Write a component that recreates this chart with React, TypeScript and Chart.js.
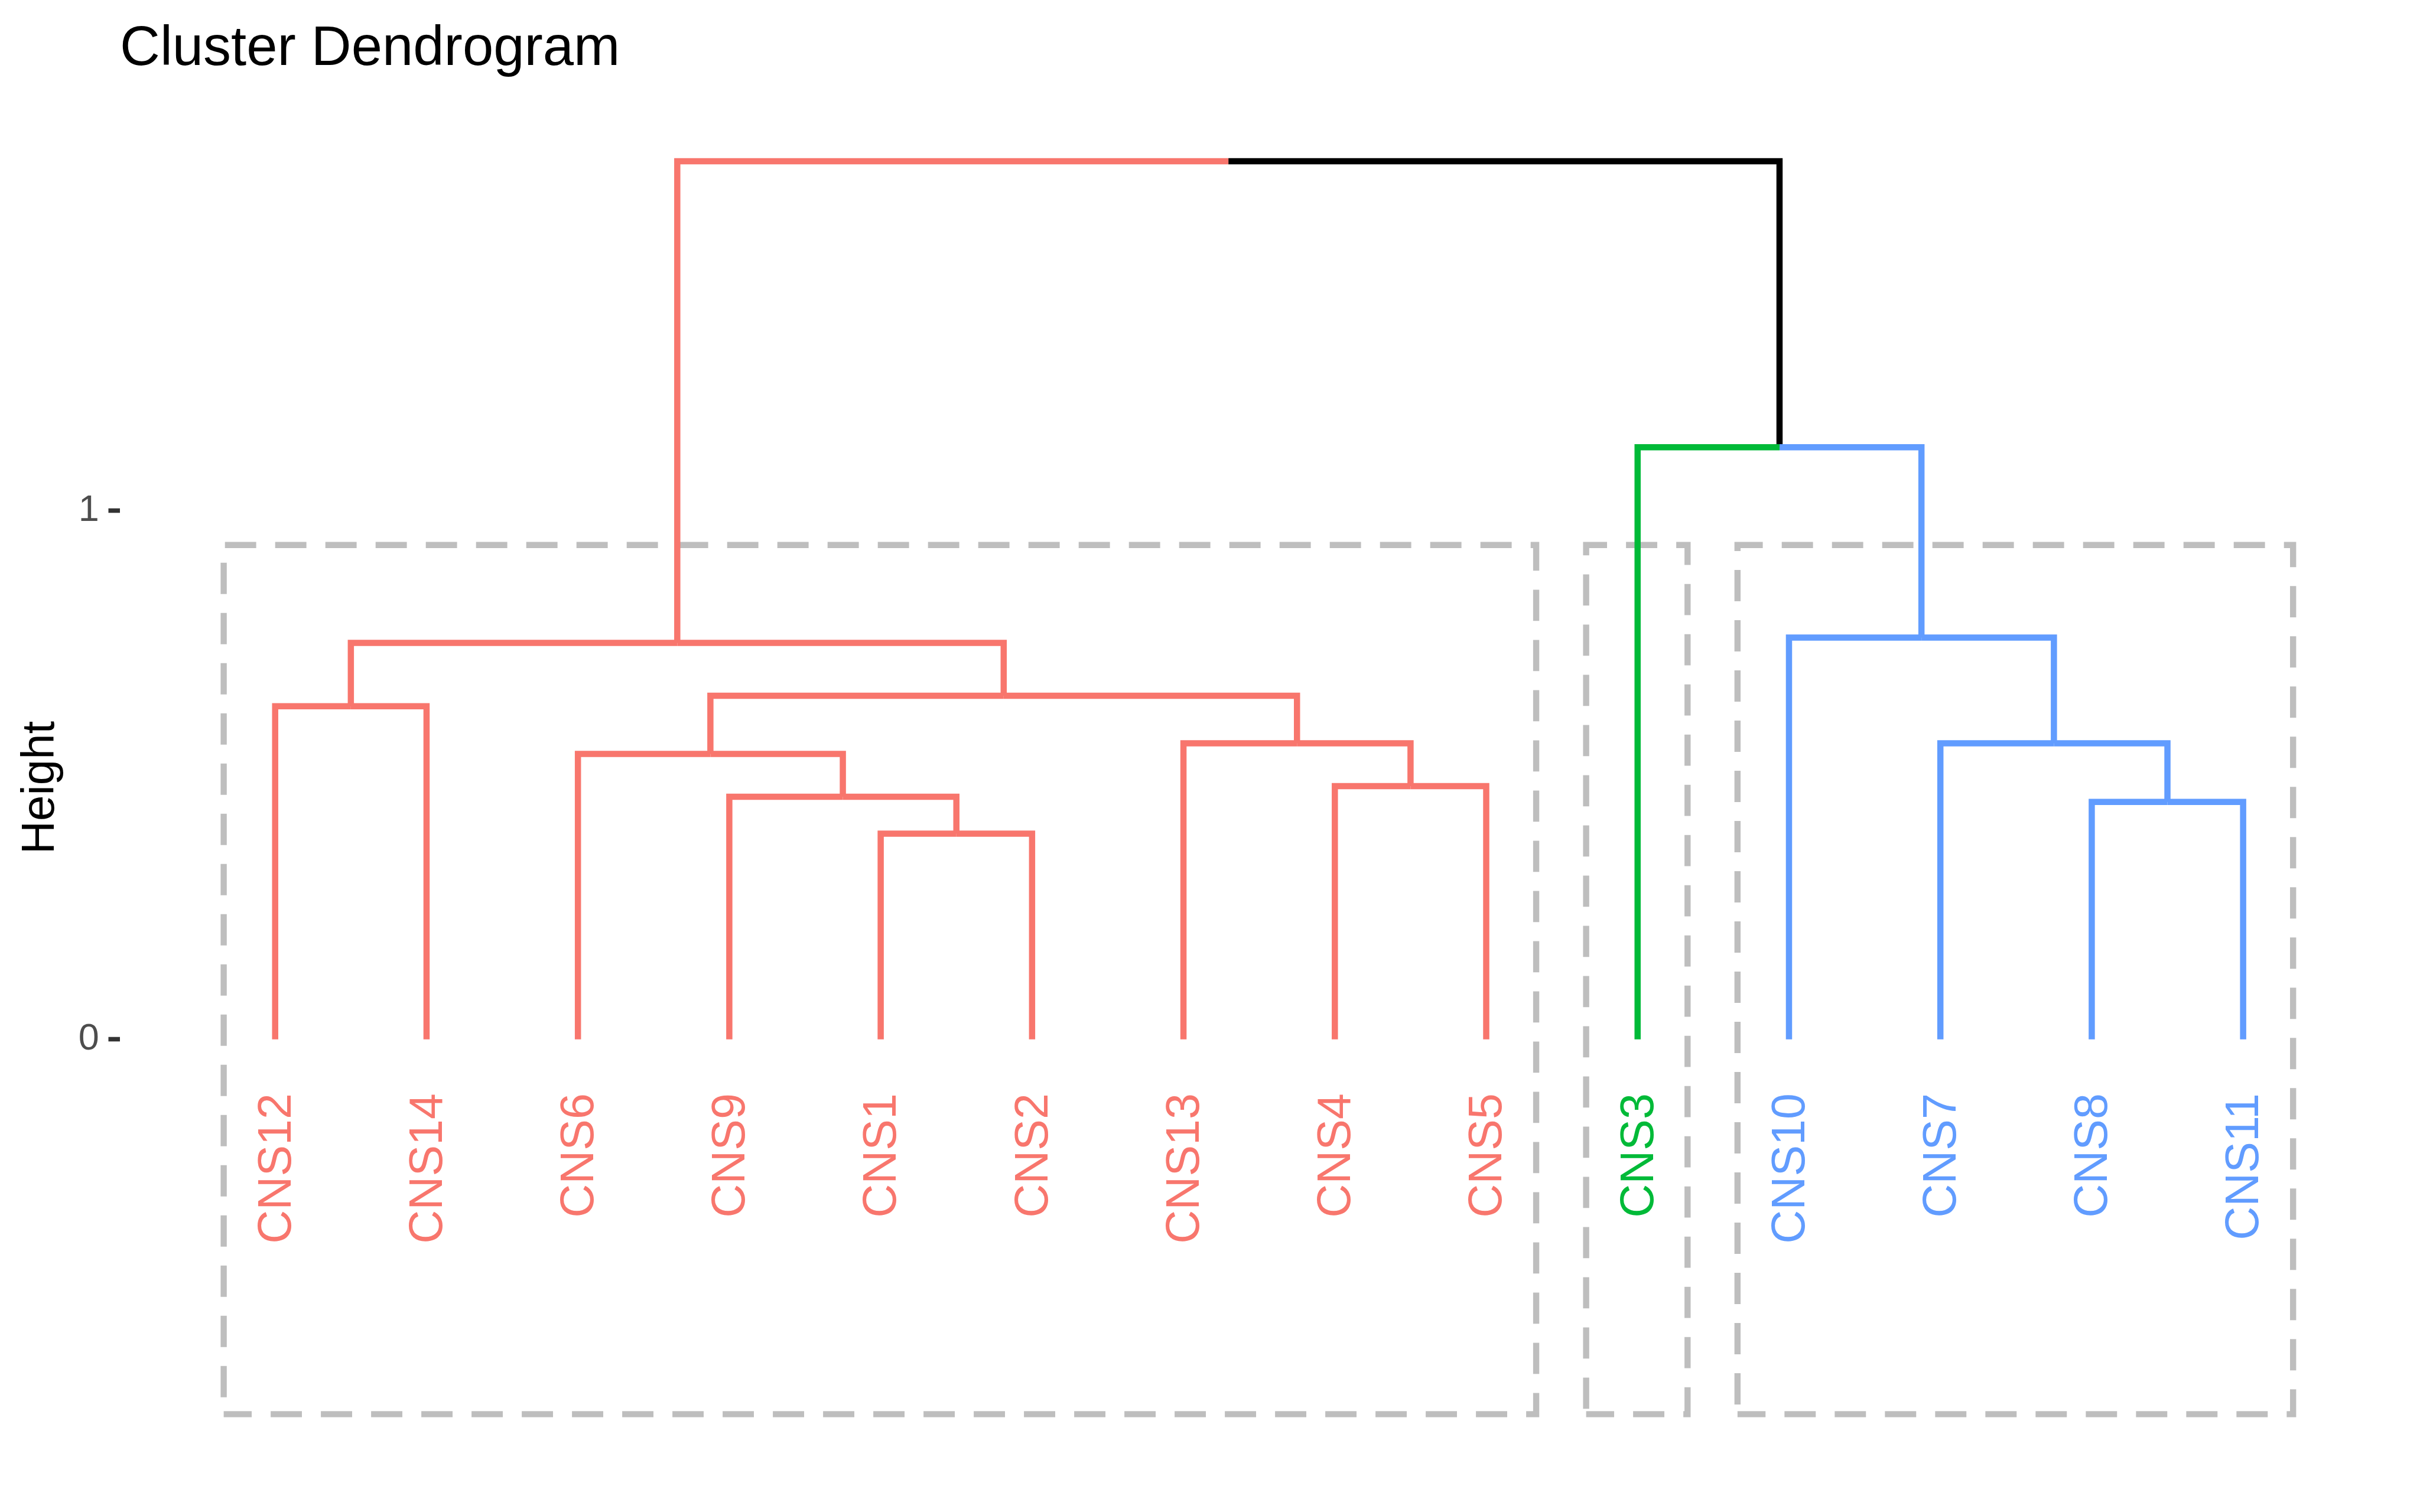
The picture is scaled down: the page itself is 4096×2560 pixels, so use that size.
import React, { useEffect, useRef } from 'react';
import { Chart, registerables } from 'chart.js';

Chart.register(...registerables);

// ---- Data ----
const leafLabels = ['CNS12', 'CNS14', 'CNS6', 'CNS9', 'CNS1', 'CNS2', 'CNS13', 'CNS4', 'CNS5', 'CNS3', 'CNS10', 'CNS7', 'CNS8', 'CNS11'];
const leafCluster = [0, 0, 0, 0, 0, 0, 0, 0, 0, 1, 2, 2, 2, 2];
const clusterColors = ['#F8766D', '#00BA38', '#619CFF'];
// merges (hclust style): negative = leaf position (1-based), positive = earlier merge (1-based)
const mergeLeft = [-5, -13, -4, -8, -3, -7, -12, -1, 5, 8, -11, -10, 10];
const mergeRight = [-6, -14, 1, -9, 3, 4, 2, -2, 6, 9, 7, 11, 12];
const mergeHeight = [0.389, 0.449, 0.459, 0.479, 0.540, 0.560, 0.560, 0.630, 0.650, 0.750, 0.760, 1.120, 1.661];
const yTickValues = [0, 1];
const rectYRange = [-0.709, 0.935];

const LABEL_Y = -0.102;
const FONT = '"Liberation Sans", Arial, Helvetica, sans-serif';

function buildDatasets() {
  const nodeX: number[] = [];
  const nodeC: number[] = [];
  const info = (ref: number) => {
    if (ref < 0) return { x: -ref, h: 0, c: leafCluster[-ref - 1] };
    return { x: nodeX[ref - 1], h: mergeHeight[ref - 1], c: nodeC[ref - 1] };
  };
  const tree: any[] = [];
  for (let m = 0; m < mergeHeight.length; m++) {
    const L = info(mergeLeft[m]);
    const R = info(mergeRight[m]);
    const x = (L.x + R.x) / 2;
    const h = mergeHeight[m];
    nodeX[m] = x;
    nodeC[m] = L.c === R.c ? L.c : -1;
    for (const ch of [L, R]) {
      tree.push({
        data: [{ x: ch.x, y: ch.h }, { x: ch.x, y: h }, { x: x, y: h }],
        borderColor: ch.c >= 0 ? clusterColors[ch.c] : '#000000',
        borderWidth: 10.5,
        pointRadius: 0,
        fill: false,
        order: 0,
      });
    }
  }
  const rects: any[] = [];
  for (let k = 0; k < clusterColors.length; k++) {
    const idx = leafCluster.map((c, i) => (c === k ? i + 1 : -1)).filter((v) => v > 0);
    const x0 = Math.min(...idx) - 0.34;
    const x1 = Math.max(...idx) + 0.33;
    const [y0, y1] = rectYRange;
    rects.push({
      data: [{ x: x0, y: y0 }, { x: x1, y: y0 }, { x: x1, y: y1 }, { x: x0, y: y1 }, { x: x0, y: y0 }],
      borderColor: '#BEBEBE',
      borderWidth: 10.4,
      borderDash: [52.9, 32.1],
      borderDashOffset: 5.5,
      pointRadius: 0,
      fill: false,
      order: 1,
    });
  }
  return [...tree, ...rects];
}

export default function App() {
  const ref = useRef<HTMLCanvasElement | null>(null);
  useEffect(() => {
    if (!ref.current) return;
    Chart.defaults.font.family = FONT;
    const chart = new Chart(ref.current, {
      type: 'line',
      data: { datasets: buildDatasets() },
      options: {
        responsive: false,
        animation: false,
        devicePixelRatio: 1,
        layout: { padding: { left: 0, top: 28, right: 120, bottom: 59 } },
        elements: {
          point: { radius: 0, hoverRadius: 0 },
          line: { tension: 0, borderJoinStyle: 'miter', borderCapStyle: 'butt' },
        },
        plugins: {
          legend: { display: false },
          tooltip: { enabled: false },
          title: {
            display: true,
            text: 'Cluster Dendrogram',
            align: 'start',
            fullSize: false,
            color: '#000000',
            font: { family: FONT, size: 94, weight: 'normal', lineHeight: 1.2 },
            padding: { top: 0, bottom: 25.2 },
          },
        },
        scales: {
          x: {
            type: 'linear',
            min: -0.0254,
            max: 14.7,
            position: { y: LABEL_Y },
            grid: { display: false, drawTicks: false },
            border: { display: false },
            afterBuildTicks: (s: any) => {
              s.ticks = leafLabels.map((_, i) => ({ value: i + 1 }));
            },
            ticks: {
              autoSkip: false,
              minRotation: 90,
              maxRotation: 90,
              padding: 0,
              labelOffset: 4,
              font: { family: FONT, size: 79 },
              color: (ctx: any) => clusterColors[leafCluster[ctx.index]] || '#000',
              callback: (v: any) => leafLabels[Math.round(v) - 1] ?? '',
            },
          },
          y: {
            type: 'linear',
            position: 'left',
            min: -0.8281,
            max: 1.7805,
            afterBuildTicks: (s: any) => {
              s.ticks = yTickValues.map((v) => ({ value: v }));
            },
            afterFit: (s: any) => {
              s.width = 203;
            },
            grid: {
              display: true,
              drawOnChartArea: false,
              drawTicks: true,
              tickLength: 19.5,
              tickWidth: 7.6,
              tickColor: '#333333',
            },
            border: { display: false },
            ticks: {
              padding: 15.6,
              color: '#4D4D4D',
              font: { family: FONT, size: 63 },
              callback: (v: any) => String(v),
            },
            title: {
              display: true,
              text: 'Height',
              color: '#000000',
              font: { family: FONT, size: 78, lineHeight: 1.2 },
              padding: { top: 22.6, bottom: 0 },
            },
          },
        },
      } as any,
    });
    return () => chart.destroy();
  }, []);
  return (
    <div style={{ position: 'absolute', left: 0, top: 0, width: 4096, height: 2560, background: '#ffffff' }}>
      <canvas ref={ref} width={4096} height={2560} style={{ display: 'block', width: 4096, height: 2560 }} />
    </div>
  );
}
